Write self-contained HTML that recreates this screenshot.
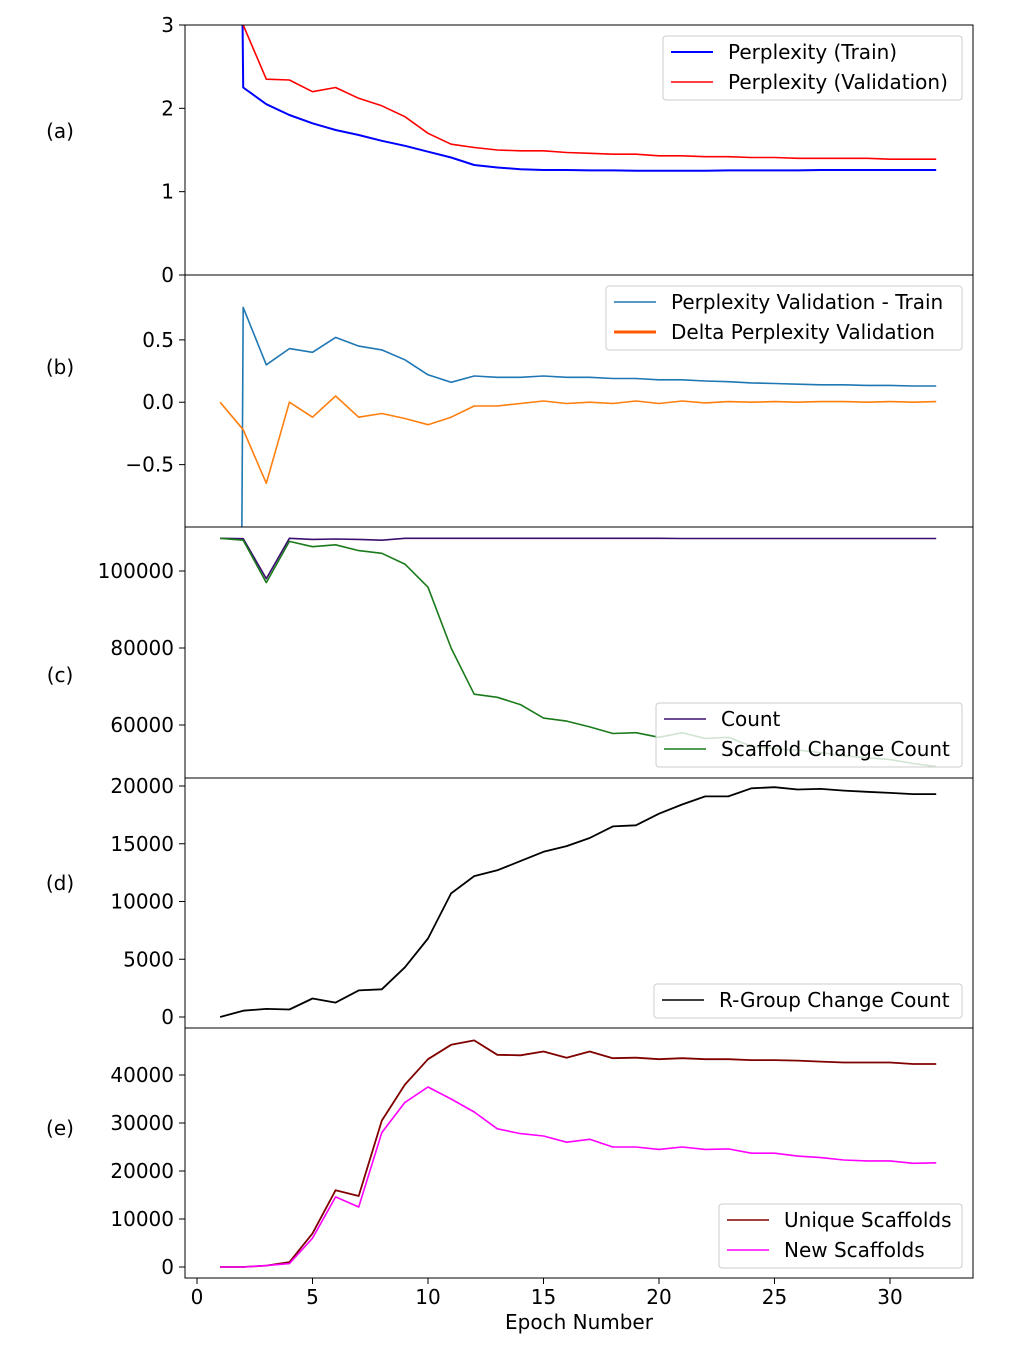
<!DOCTYPE html>
<html><head><meta charset="utf-8"><style>
html,body{margin:0;background:#fff;overflow:hidden;width:1034px;height:1358px;}
svg{display:block;font-family:"DejaVu Sans","Liberation Sans",sans-serif;}
</style></head><body>
<svg id="c" width="1034" height="1358" viewBox="0 0 1034 1358" xmlns="http://www.w3.org/2000/svg"></svg>
<script>
const epochs=[1,2,3,4,5,6,7,8,9,10,11,12,13,14,15,16,17,18,19,20,21,22,23,24,25,26,27,28,29,30,31,32];
const pplTrain=[30,2.25,2.05,1.92,1.82,1.74,1.68,1.61,1.55,1.48,1.41,1.32,1.29,1.27,1.26,1.26,1.255,1.255,1.25,1.25,1.25,1.25,1.255,1.255,1.255,1.255,1.26,1.26,1.26,1.26,1.26,1.26];
const pplVal=[100,3.0,2.35,2.34,2.2,2.25,2.12,2.03,1.9,1.7,1.57,1.53,1.5,1.49,1.49,1.47,1.46,1.45,1.45,1.43,1.43,1.42,1.42,1.41,1.41,1.40,1.40,1.40,1.40,1.39,1.39,1.39];
const diffValTrain=[-30,0.76,0.30,0.43,0.40,0.52,0.45,0.42,0.34,0.22,0.16,0.21,0.20,0.20,0.21,0.20,0.20,0.19,0.19,0.18,0.18,0.17,0.165,0.155,0.15,0.145,0.14,0.14,0.135,0.135,0.13,0.13];
const deltaVal=[0,-0.22,-0.65,0,-0.12,0.05,-0.12,-0.09,-0.13,-0.18,-0.12,-0.03,-0.03,-0.01,0.01,-0.01,0,-0.01,0.01,-0.01,0.01,-0.005,0.005,0,0.005,0,0.005,0.005,0,0.005,0,0.005];
const countVals=[108500,108400,98000,108500,108200,108300,108200,108000,108500,108500,108500,108500,108500,108500,108500,108500,108500,108500,108500,108500,108450,108450,108450,108450,108450,108450,108450,108450,108450,108450,108450,108450];
const scaffoldChange=[108500,108000,97000,107700,106300,106800,105300,104600,101800,95800,80000,68000,67200,65300,61800,61000,59500,57800,58000,56800,58000,56500,56800,54500,53800,53500,52800,52000,51500,51000,50000,49200];
const rGroup=[0,550,700,650,1600,1250,2300,2400,4300,6800,10700,12200,12700,13500,14300,14800,15500,16500,16600,17600,18400,19100,19100,19800,19900,19700,19750,19600,19500,19400,19300,19300];
const uniqueScaf=[0,0,300,1000,7000,16000,14800,30500,38000,43300,46300,47200,44200,44100,44900,43600,44900,43500,43600,43300,43500,43300,43300,43100,43100,43000,42800,42600,42600,42600,42300,42300];
const newScaf=[0,0,300,700,6000,14600,12500,28000,34300,37500,35000,32300,28800,27800,27300,26000,26600,25000,25000,24500,25000,24500,24600,23700,23700,23100,22800,22300,22100,22100,21600,21700];
const xTicks=[0,5,10,15,20,25,30];

const NS="http://www.w3.org/2000/svg";
const svg=document.getElementById('c');
function el(t,a,p){const e=document.createElementNS(NS,t);for(const k in a)e.setAttribute(k,a[k]);(p||svg).appendChild(e);return e;}
const X0=185,X1=973;
const xs=e=>197+23.1*e;
const FS=20;

const panels=[
 {id:'a',top:25,bot:275,ly:131,vmin:0,vmax:3,ticks:[0,1,2,3],fmt:v=>String(v),
  series:[{d:pplTrain,c:'#0000ff',w:2,n:'perplexity-train-line'},{d:pplVal,c:'#ff0000',w:1.6,n:'perplexity-validation-line'}],
  legend:{x:663,y:36,w:299,h:64,items:[['Perplexity (Train)','#0000ff',2],['Perplexity (Validation)','#ff0000',1.6]]}},
 {id:'b',top:275,bot:527,ly:367,vmin:-1.0,vmax:1.02,ticks:[-0.5,0,0.5],fmt:v=>v<0?'\u2212'+Math.abs(v).toFixed(1):v.toFixed(1),
  series:[{d:diffValTrain,c:'#1f77b4',w:1.6,n:'validation-minus-train-line'},{d:deltaVal,c:'#ff7f0e',w:1.6,n:'delta-validation-line'}],
  legend:{x:606,y:286,w:356,h:64,items:[['Perplexity Validation - Train','#1f77b4',1.6],['Delta Perplexity Validation','#ff5a00',3]]}},
 {id:'c',top:527,bot:778,ly:675,vmin:46230,vmax:111430,ticks:[60000,80000,100000],fmt:v=>String(v),
  series:[{d:countVals,c:'#3b0f70',w:1.6,n:'count-line'},{d:scaffoldChange,c:'#1a7a1a',w:1.6,n:'scaffold-change-line'}],
  legend:{x:656,y:703,w:306,h:64,items:[['Count','#3b0f70',1.6],['Scaffold Change Count','#1a7a1a',1.6]]}},
 {id:'d',top:778,bot:1028,ly:883,vmin:-952,vmax:20693,ticks:[0,5000,10000,15000,20000],fmt:v=>String(v),
  series:[{d:rGroup,c:'#000',w:1.8,n:'r-group-change-line'}],
  legend:{x:654,y:984,w:308,h:34,items:[['R-Group Change Count','#000',1.6]]}},
 {id:'e',top:1028,bot:1278,ly:1128,vmin:-2290,vmax:49790,ticks:[0,10000,20000,30000,40000],fmt:v=>String(v),
  series:[{d:uniqueScaf,c:'#800000',w:1.8,n:'unique-scaffolds-line'},{d:newScaf,c:'#ff00ff',w:1.6,n:'new-scaffolds-line'}],
  legend:{x:719,y:1204,w:243,h:64,items:[['Unique Scaffolds','#800000',1.6],['New Scaffolds','#ff00ff',1.6]]}}
];

panels.forEach((p,pi)=>{
  const g=el('g',{});
  
  
  const ys=v=>p.bot-(v-p.vmin)/(p.vmax-p.vmin)*(p.bot-p.top);
  const cp=el('clipPath',{id:'cp'+p.id},g);
  el('rect',{x:X0,y:p.top,width:X1-X0,height:p.bot-p.top},cp);
  p.ticks.forEach(t=>{
    const y=ys(t);
    el('line',{x1:X0-6,x2:X0,y1:y,y2:y,stroke:'#000','stroke-width':1},g);
    const tx=el('text',{x:X0-11,y:y+7,'text-anchor':'end','font-size':FS,fill:'#000'},g);
    tx.textContent=p.fmt(t);
    
    
  });
  const lab=el('text',{x:60,y:p.ly+7,'text-anchor':'middle','font-size':FS,fill:'#000'},g);
  lab.textContent='('+p.id+')';
  
  
  p.series.forEach(s=>{
    const pts=s.d.map((v,i)=>xs(epochs[i]).toFixed(1)+','+ys(v).toFixed(1)).join(' ');
    const pl=el('polyline',{points:pts,fill:'none',stroke:s.c,'stroke-width':s.w,'clip-path':'url(#cp'+p.id+')','stroke-linejoin':'round'},g);
    
    
  });
  const L=p.legend;
  const lg=el('g',{},g);
  
  
  el('rect',{x:L.x,y:L.y,width:L.w,height:L.h,rx:3,fill:'rgba(255,255,255,0.8)',stroke:'#ccc','stroke-width':1},lg);
  L.items.forEach((it,i)=>{
    const y=L.y+16+i*30;
    el('line',{x1:L.x+8,x2:L.x+50,y1:y,y2:y,stroke:it[1],'stroke-width':it[2]},lg);
    const t=el('text',{x:L.x+65,y:y+7,'font-size':FS,fill:'#000'},lg);
    t.textContent=it[0];
    
    
  });
  el('rect',{x:X0,y:p.top,width:X1-X0,height:p.bot-p.top,fill:'none',stroke:'#000','stroke-width':1},g);
});
xTicks.forEach(t=>{
  const x=xs(t);
  el('line',{x1:x,x2:x,y1:1278,y2:1284,stroke:'#000'});
  const tx=el('text',{x:x,y:1304,'text-anchor':'middle','font-size':FS,fill:'#000'});
  tx.textContent=t;
  
  
});
const xt=el('text',{x:579,y:1329,'text-anchor':'middle','font-size':FS,fill:'#000'});
xt.textContent='Epoch Number';


</script>
</body></html>
